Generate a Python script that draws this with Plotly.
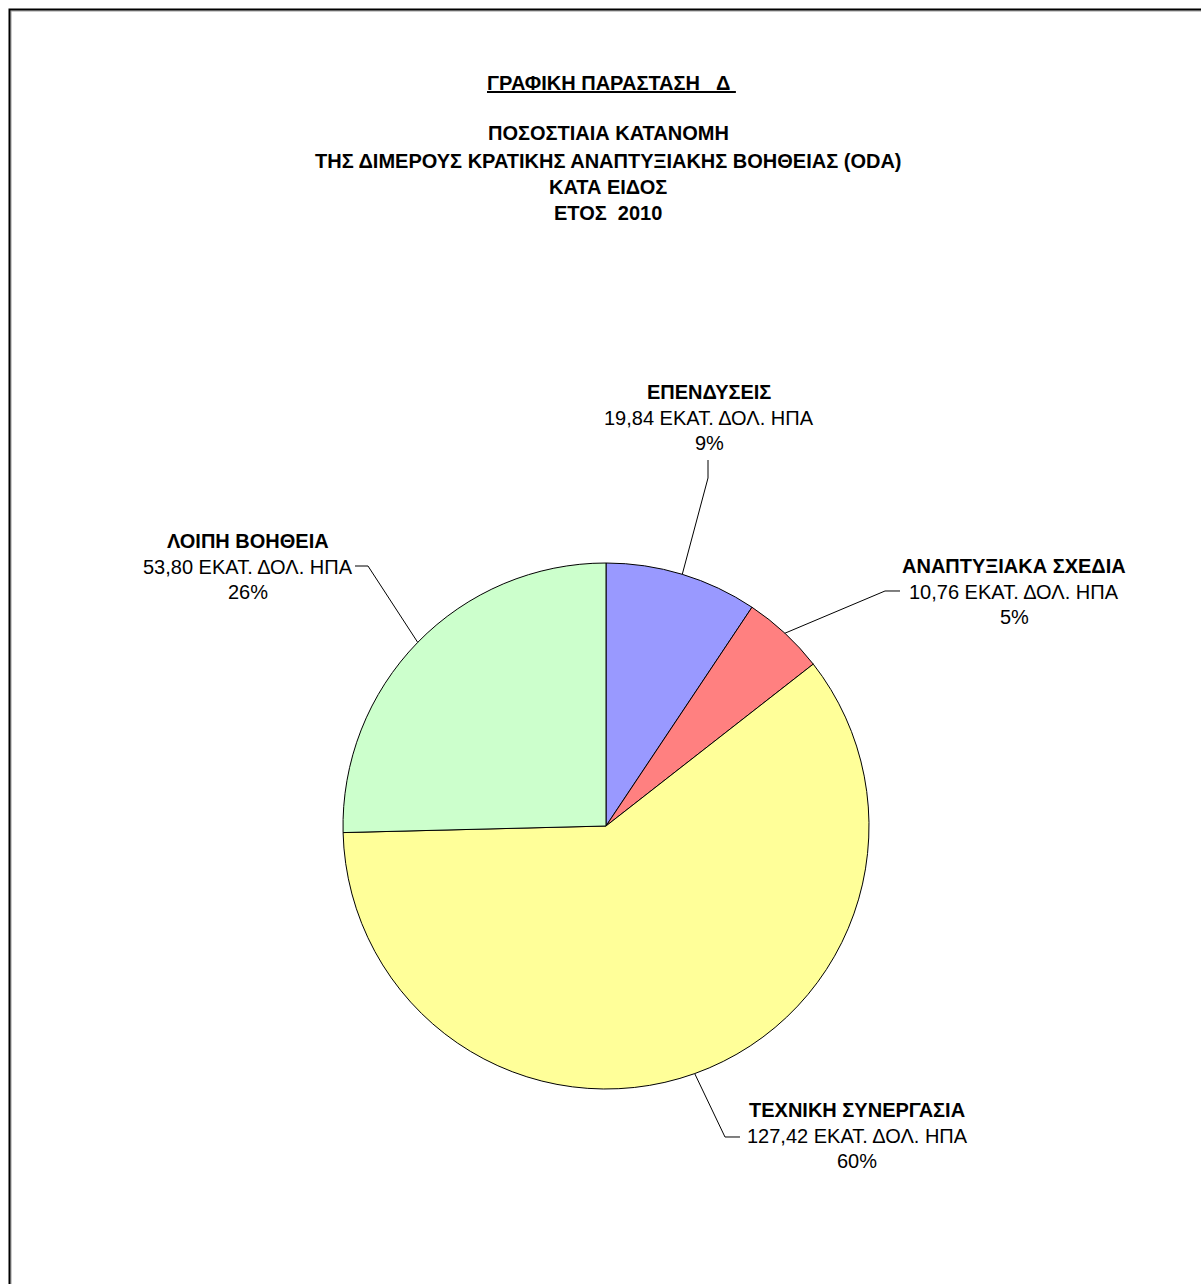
import math
import plotly.graph_objects as go

# ---- data ----
categories = ["ΕΠΕΝΔΥΣΕΙΣ", "ΑΝΑΠΤΥΞΙΑΚΑ ΣΧΕΔΙΑ", "ΤΕΧΝΙΚΗ ΣΥΝΕΡΓΑΣΙΑ", "ΛΟΙΠΗ ΒΟΗΘΕΙΑ"]
values = [19.84, 10.76, 127.42, 53.80]
value_labels = ["19,84 ΕΚΑΤ. ΔΟΛ. ΗΠΑ", "10,76 ΕΚΑΤ. ΔΟΛ. ΗΠΑ", "127,42 ΕΚΑΤ. ΔΟΛ. ΗΠΑ", "53,80 ΕΚΑΤ. ΔΟΛ. ΗΠΑ"]
pct_labels = ["9%", "5%", "60%", "26%"]
colors = ["#9999FF", "#FF8080", "#FFFF99", "#CCFFCC"]
title_main = "ΓΡΑΦΙΚΗ ΠΑΡΑΣΤΑΣΗ   Δ"
title_lines = ["ΠΟΣΟΣΤΙΑΙΑ ΚΑΤΑΝΟΜΗ",
               "ΤΗΣ ΔΙΜΕΡΟΥΣ ΚΡΑΤΙΚΗΣ ΑΝΑΠΤΥΞΙΑΚΗΣ ΒΟΗΘΕΙΑΣ (ODA)",
               "ΚΑΤΑ ΕΙΔΟΣ",
               "ΕΤΟΣ  2010"]

# ---- layout geometry (window pixels) ----
OFF = 0                      # body margin removed via post_script
W, H = 1201, 1284
CX, CY, R = 606, 826, 263
FONT = "Liberation Sans, Arial, sans-serif"
FS = 20

def px(x):
    return (x - OFF) / W

def py(y):
    return 1 - (y - OFF) / H

fig = go.Figure(go.Pie(
    labels=categories, values=values, sort=False, direction="clockwise",
    rotation=0, marker=dict(colors=colors, line=dict(color="black", width=1)),
    textinfo="none", hoverinfo="label+value+percent", showlegend=False,
    domain=dict(x=[px(CX - R), px(CX + R)], y=[py(CY + R), py(CY - R)]),
))

annotations = []
shapes = []

# title
annotations.append(dict(x=px(611), y=py(83), xref="paper", yref="paper",
                        text="<b><u>" + title_main + "\u00a0</u></b>", showarrow=False,
                        xanchor="center", yanchor="middle",
                        font=dict(family=FONT, size=FS, color="black")))
for i, t in enumerate(title_lines):
    yy = [133, 161, 187, 213][i]
    annotations.append(dict(x=px(608), y=py(yy), xref="paper", yref="paper",
                            text="<b>" + t + "</b>", showarrow=False,
                            xanchor="center", yanchor="middle",
                            font=dict(family=FONT, size=FS, color="black")))

# label blocks: center x, y of first line, and leader elbow/end points
label_pos = [(709, 392), (1014, 566), (857, 1110), (248, 541)]
leader_elbows = [[(708, 478), (708, 460)],
                 [(885, 591), (900, 591)],
                 [(725, 1137), (740, 1137)],
                 [(368, 566), (355, 566)]]
spacing = 25.5

total = sum(values)
cum = 0.0
for i, v in enumerate(values):
    mid = (cum + v / 2) / total * 2 * math.pi
    cum += v
    ax = CX + R * math.sin(mid)
    ay = CY - R * math.cos(mid)
    pts = [(ax, ay)] + leader_elbows[i]
    path = "M " + " L ".join(f"{px(x):.5f},{py(y):.5f}" for x, y in pts)
    shapes.append(dict(type="path", path=path, xref="paper", yref="paper",
                       line=dict(color="black", width=1)))
    lx, ly = label_pos[i]
    lines = ["<b>" + categories[i] + "</b>", value_labels[i], pct_labels[i]]
    for j, t in enumerate(lines):
        annotations.append(dict(x=px(lx), y=py(ly + j * spacing), xref="paper", yref="paper",
                                text=t, showarrow=False, xanchor="center", yanchor="middle",
                                font=dict(family=FONT, size=FS, color="black")))

# outer frame (only top and left visible)
shapes.append(dict(type="path", xref="paper", yref="paper",
                   path=f"M {px(11):.5f},{py(1300):.5f} L {px(11):.5f},{py(11):.5f} L {px(1220):.5f},{py(11):.5f}",
                   line=dict(color="#999999", width=1)))
shapes.append(dict(type="path", xref="paper", yref="paper",
                   path=f"M {px(9.5):.5f},{py(1300):.5f} L {px(9.5):.5f},{py(9.5):.5f} L {px(1220):.5f},{py(9.5):.5f}",
                   line=dict(color="black", width=2)))

fig.update_layout(width=W, height=H, margin=dict(l=0, r=0, t=0, b=0),
                  paper_bgcolor="white", plot_bgcolor="white",
                  annotations=annotations, shapes=shapes)

fig.write_html("out.html", config={"displayModeBar": False},
               post_script="document.body.style.margin='0';document.body.style.overflow='hidden';")
